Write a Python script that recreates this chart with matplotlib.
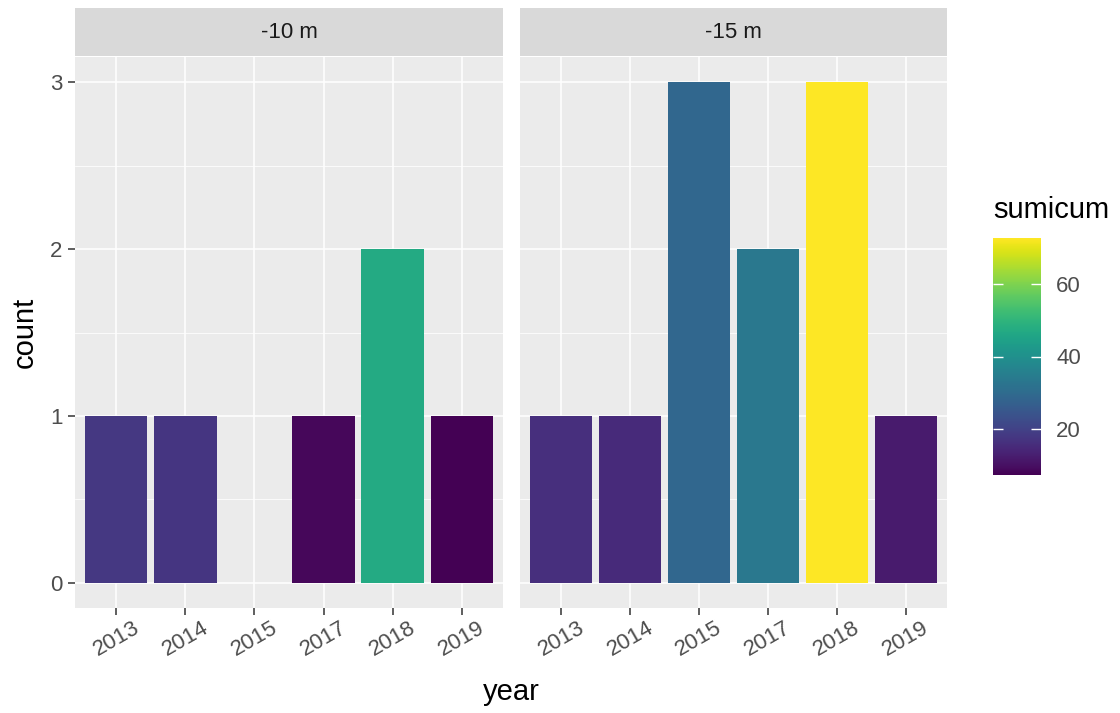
import matplotlib.pyplot as plt
from matplotlib import cm, colors
from matplotlib.transforms import ScaledTranslation

plt.rcParams['font.family'] = ['Liberation Sans', 'DejaVu Sans']

# data
years = ['2013', '2014', '2015', '2017', '2018', '2019']
panels = ['-10 m', '-15 m']

years_10 = ['2013', '2014', '2017', '2018', '2019']
counts_10 = [1, 1, 1, 2, 1]
sumicum_10 = [18.0, 17.5, 8.5, 47.0, 7.3]

years_15 = ['2013', '2014', '2015', '2017', '2018', '2019']
counts_15 = [1, 1, 3, 2, 3, 1]
sumicum_15 = [16.0, 15.0, 29.0, 33.5, 72.7, 12.0]

W, H = 1120, 713
fig = plt.figure(figsize=(W / 100, H / 100), dpi=100)

vmin = min(sumicum_10 + sumicum_15)
vmax = max(sumicum_10 + sumicum_15)
norm = colors.Normalize(vmin=vmin, vmax=vmax)
cmap = plt.get_cmap('viridis')


def px_axes(x0, y0, x1, y1):
    return fig.add_axes([x0 / W, 1 - y1 / H, (x1 - x0) / W, (y1 - y0) / H])


panel_x = [(75, 503), (520, 947)]
data = [(years_10, counts_10, sumicum_10), (years_15, counts_15, sumicum_15)]
shift = ScaledTranslation(3 / 100, 0, fig.dpi_scale_trans)

for i, (name, (x0, x1), (yrs, cnt, val)) in enumerate(zip(panels, panel_x, data)):
    ax = px_axes(x0, 57, x1, 608)
    ax.set_facecolor('#ebebeb')
    pos = [years.index(y) for y in yrs]
    ax.bar(pos, cnt, width=0.9, color=cmap(norm(val)), zorder=3)
    ax.set_xlim(-0.6, len(years) - 0.4)
    ax.set_ylim(-0.15, 3.15)
    ax.set_xticks(range(len(years)))
    ax.set_xticklabels(years, rotation=30, ha='center', va='top')
    for lab in ax.get_xticklabels():
        lab.set_transform(lab.get_transform() + shift)
    ax.set_yticks([0, 1, 2, 3])
    ax.set_yticks([0.5, 1.5, 2.5], minor=True)
    ax.grid(which='major', color='white', linewidth=1.1, zorder=0)
    ax.grid(which='minor', axis='y', color='white', linewidth=0.55, zorder=0)
    ax.set_axisbelow(True)
    for s in ax.spines.values():
        s.set_visible(False)
    ax.tick_params(which='major', length=5, width=1.1, color='#333333',
                   labelsize=16, labelcolor='#4d4d4d', pad=2)
    ax.tick_params(which='minor', length=0)
    if i == 0:
        ax.tick_params(axis='y', pad=4)
    else:
        ax.tick_params(axis='y', left=False, labelleft=False)

    # facet strip
    st = px_axes(x0, 8, x1, 56)
    st.set_facecolor('#d9d9d9')
    st.set_xticks([])
    st.set_yticks([])
    for s in st.spines.values():
        s.set_visible(False)
    st.text(0.5, 0.5, name, ha='center', va='center', fontsize=16,
            color='#1a1a1a', transform=st.transAxes)

fig.text(511 / W, 1 - 692 / H, 'year', ha='center', va='center', fontsize=21)
fig.text(25 / W, 1 - 332 / H, 'count', ha='center', va='center', fontsize=21,
         rotation=90)

# colour bar
cax = px_axes(993, 238, 1041, 475)
sm = cm.ScalarMappable(norm=norm, cmap=cmap)
cb = fig.colorbar(sm, cax=cax, ticks=[20, 40, 60])
cb.outline.set_visible(False)
cax.tick_params(direction='in', color='white', length=7, width=1,
                left=True, right=True, labelsize=16, labelcolor='#4d4d4d', pad=11)
fig.text(993 / W, 1 - 210 / H, 'sumicum', ha='left', va='center', fontsize=21)

fig.savefig('out.png', dpi=100)
